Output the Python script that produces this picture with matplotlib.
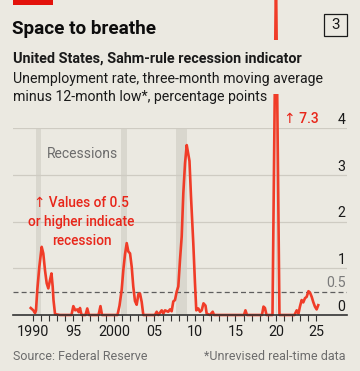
import matplotlib
matplotlib.use('Agg')
import matplotlib.pyplot as plt
from matplotlib.patches import Rectangle

plt.rcParams['font.family'] = ['Roboto', 'DejaVu Sans']

BG = '#ebe9e1'
RED_LINE = '#f03c28'
RED_TEXT = '#e8261a'
GRID = '#cecbc2'
BAND = '#d9d7ce'
DARK = '#1a1a1a'
GREY = '#6c6c6c'

# Sahm-rule indicator (decimal year, percentage points)
DATES = [1989.72, 1990.04, 1990.25, 1990.37, 1990.53, 1990.78, 1991.07, 1991.27, 1991.48,
         1991.69, 1991.89, 1992.10, 1992.28, 1992.43, 1992.53, 1992.72, 1993.33, 1994.75,
         1994.98, 1995.22, 1995.47, 1995.65, 1995.80, 1995.99, 1996.48, 1996.70, 1996.91,
         1998.09, 1998.33, 1998.52, 2000.43, 2000.68, 2000.95, 2001.15, 2001.36, 2001.57,
         2001.77, 2001.98, 2002.19, 2002.38, 2002.59, 2002.80, 2003.02, 2003.21, 2003.42,
         2003.62, 2005.06, 2005.27, 2005.47, 2005.89, 2006.09, 2006.30, 2006.70, 2006.91,
         2007.12, 2007.32, 2007.53, 2007.74, 2007.94, 2008.15, 2008.36, 2008.56, 2008.77,
         2008.98, 2009.17, 2009.32, 2009.51, 2009.79, 2010.00, 2010.16, 2010.41, 2010.62,
         2010.83, 2011.05, 2011.30, 2011.44, 2011.85, 2012.19, 2012.35, 2016.05, 2016.23,
         2016.42, 2018.27, 2018.46, 2018.64, 2018.83, 2019.57, 2020.00, 2020.43, 2022.28,
         2022.56, 2022.78, 2022.96, 2023.17, 2023.37, 2023.58, 2023.79, 2024.01, 2024.20,
         2024.41, 2024.60, 2024.81, 2025.02, 2025.22]
SAHM = [0.15, 0.10, 0.04, 0.10, 0.54, 1.03, 1.46, 1.32, 0.96,
        0.68, 0.57, 0.75, 0.89, 0.61, 0.32, 0.02, 0.00, 0.00,
        0.19, 0.10, 0.12, 0.06, 0.15, 0.00, 0.00, 0.14, 0.00,
        0.00, 0.19, 0.00, 0.00, 0.20, 0.54, 0.96, 1.30, 1.54,
        1.36, 1.32, 1.03, 0.61, 0.30, 0.22, 0.45, 0.46, 0.28,
        0.00, 0.00, 0.07, 0.00, 0.10, 0.03, 0.10, 0.07, 0.12,
        0.08, 0.29, 0.32, 0.50, 0.61, 1.18, 1.68, 2.61, 3.25,
        3.64, 3.45, 3.30, 2.53, 1.54, 0.68, 0.10, 0.14, 0.07,
        0.10, 0.25, 0.20, 0.03, 0.00, 0.07, 0.00, 0.00, 0.10,
        0.00, 0.00, 0.18, 0.15, 0.00, 0.00, 7.30, 0.00, 0.00,
        0.10, 0.03, 0.18, 0.32, 0.27, 0.36, 0.39, 0.51, 0.48,
        0.39, 0.28, 0.18, 0.12, 0.21]

RECESSION_START = [1990.31, 2000.86, 2007.65, 2019.95]
RECESSION_END = [1990.96, 2001.57, 2008.98, 2020.15]

YTICKS = [0, 1, 2, 3, 4]
YTICK_LABELS = ['0', '1', '2', '3', '4']
THRESHOLD = 0.5
XTICK_YEARS = [1990, 1995, 2000, 2005, 2010, 2015, 2020, 2025]
XTICK_LABELS = ['1990', '95', '2000', '05', '10', '15', '20', '25']
MINOR_YEARS = list(range(1990, 2026))


def draw_chart(fig):
    ax = fig.add_axes([13 / 360, 56 / 371, 334 / 360, 186.7 / 371])
    ax.set_facecolor(BG)
    ax.set_xlim(1987.53, 2028.77)
    ax.set_ylim(0, 4)

    for start, end in zip(RECESSION_START, RECESSION_END):
        ax.axvspan(start, end, color=BAND, lw=0, zorder=1)

    for y in YTICKS[1:]:
        ax.axhline(y, color=GRID, lw=0.9, zorder=2)
    ax.axhline(THRESHOLD, color='#5e5e5e', lw=0.9, dashes=(4, 2.5), zorder=2)

    ax.plot(DATES, SAHM, color=RED_LINE, lw=1.9, solid_joinstyle='round',
            clip_on=False, zorder=4)

    for y, lab in zip(YTICKS, YTICK_LABELS):
        ax.annotate(lab, xy=(1, y), xycoords=('axes fraction', 'data'),
                    xytext=(-1, 3.2), textcoords='offset points',
                    ha='right', va='baseline', fontsize=10.2, color=DARK)
    ax.annotate('0.5', xy=(1, THRESHOLD), xycoords=('axes fraction', 'data'),
                xytext=(-1, 3.2), textcoords='offset points',
                ha='right', va='baseline', fontsize=10.2, color='#7a7a7a')

    ax.set_yticks([])
    ax.set_xticks(MINOR_YEARS, minor=True)
    ax.set_xticks(XTICK_YEARS)
    ax.set_xticklabels(XTICK_LABELS)
    ax.tick_params(axis='x', which='both', direction='out', length=4.5, width=0.8,
                   color='#333333', labelsize=10.3, labelcolor=DARK, pad=3)

    for side in ['left', 'right', 'top']:
        ax.spines[side].set_visible(False)
    ax.spines['bottom'].set_color('#333333')
    ax.spines['bottom'].set_linewidth(1.2)
    ax.spines['bottom'].set_zorder(5)

    ax.text(1991.69, 3.36, 'Recessions', fontsize=10, color=GREY, ha='left', va='baseline')
    red = dict(fontsize=9.8, color=RED_TEXT, ha='center', va='baseline', fontweight='medium')
    ax.text(1996.0, 2.31, '↑ Values of 0.5', **red)
    ax.text(1996.0, 1.90, 'or higher indicate', **red)
    ax.text(1996.0, 1.50, 'recession', **red)
    ax.text(2021.02, 4.11, '↑ 7.3', fontsize=10, color=RED_TEXT, ha='left', va='baseline',
            fontweight='medium')
    return ax


def draw_header(fig):
    # background strip that hides the 2020 spike behind the subtitle
    fig.patches.append(Rectangle((0, 1 - 94 / 371), 1, 54 / 371, transform=fig.transFigure,
                                 facecolor=BG, edgecolor='none', zorder=1))
    fig.patches.append(Rectangle((13 / 360, 1 - 5 / 371), 40 / 360, 5 / 371,
                                 transform=fig.transFigure, facecolor='#e3120b',
                                 edgecolor='none', zorder=2))
    fig.patches.append(Rectangle((324 / 360, 1 - 36 / 371), 23 / 360, 22 / 371,
                                 transform=fig.transFigure, facecolor='none',
                                 edgecolor=DARK, lw=0.9, zorder=2))
    fig.text(335.5 / 360, 1 - 25 / 371, '3', fontsize=11, color=DARK, ha='center', va='center')

    fig.text(12 / 360, 1 - 33.5 / 371, 'Space to breathe', fontsize=13.6, fontweight='bold',
             color='#0d0d0d', ha='left', va='baseline')
    fig.text(13 / 360, 1 - 62.3 / 371, 'United States, Sahm-rule recession indicator',
             fontsize=10.4, fontweight='bold', color=DARK, ha='left', va='baseline')
    fig.text(13 / 360, 1 - 83.3 / 371, 'Unemployment rate, three-month moving average',
             fontsize=10.2, color=DARK, ha='left', va='baseline')
    fig.text(13 / 360, 1 - 101 / 371, 'minus 12-month low*, percentage points',
             fontsize=10.2, color=DARK, ha='left', va='baseline')

    fig.text(13 / 360, 1 - 360 / 371, 'Source: Federal Reserve', fontsize=9,
             color=GREY, ha='left', va='baseline')
    fig.text(346 / 360, 1 - 360 / 371, '*Unrevised real-time data', fontsize=9,
             color=GREY, ha='right', va='baseline')


def run():
    fig = plt.figure(figsize=(3.6, 3.71), dpi=100)
    fig.patch.set_facecolor(BG)
    draw_chart(fig)
    draw_header(fig)
    fig.savefig('out.png', dpi=100, facecolor=BG)


run()
